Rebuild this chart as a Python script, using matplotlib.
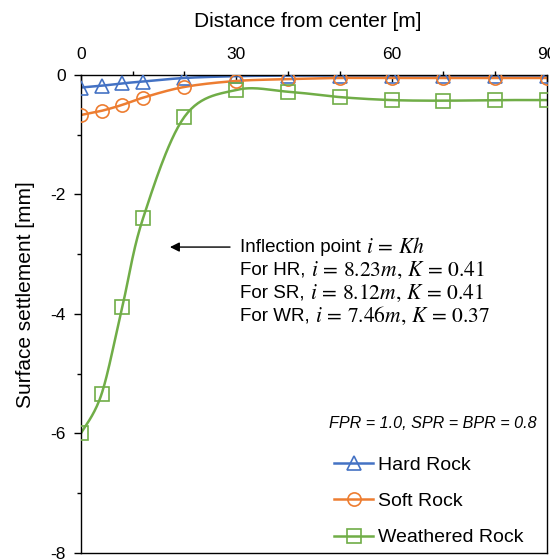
import numpy as np
import matplotlib.pyplot as plt
from matplotlib.ticker import MultipleLocator

plt.rcParams['font.family'] = ['Liberation Sans', 'DejaVu Sans']
plt.rcParams['mathtext.fontset'] = 'stix'

distance = [0, 4, 8, 12, 20, 30, 40, 50, 60, 70, 80, 90]
hard_rock = [-0.21, -0.18, -0.14, -0.11, -0.05, -0.02, -0.01, -0.01, -0.01, -0.01, -0.01, -0.01]
soft_rock = [-0.67, -0.60, -0.50, -0.38, -0.20, -0.10, -0.07, -0.05, -0.05, -0.05, -0.05, -0.05]
weathered_rock = [-6.00, -5.34, -3.88, -2.40, -0.70, -0.25, -0.28, -0.37, -0.42, -0.43, -0.42, -0.42]

series = [
    ("Hard Rock", hard_rock, "#4472C4", "^"),
    ("Soft Rock", soft_rock, "#ED7D31", "o"),
    ("Weathered Rock", weathered_rock, "#70AD47", "s"),
]

# (plain part, math part) for each line of the note
annot_lines = [
    ("Inflection point ", r"$i\,=\,Kh$"),
    ("For HR, ", r"$i\,=\,8.23m,\,K\,=\,0.41$"),
    ("For SR, ", r"$i\,=\,8.12m,\,K\,=\,0.41$"),
    ("For WR, ", r"$i\,=\,7.46m,\,K\,=\,0.37$"),
]


def smooth(x, y, n=30):
    # catmull-rom like the excel smoothed line
    x = np.asarray(x, float)
    y = np.asarray(y, float)
    px = np.concatenate([[x[0]], x, [x[-1]]])
    py = np.concatenate([[y[0]], y, [y[-1]]])
    xs, ys = [], []
    t = np.linspace(0, 1, n)
    for i in range(1, len(px) - 2):
        p0x, p1x, p2x, p3x = px[i - 1], px[i], px[i + 1], px[i + 2]
        p0y, p1y, p2y, p3y = py[i - 1], py[i], py[i + 1], py[i + 2]
        c1x = p1x + (p2x - p0x) / 6
        c1y = p1y + (p2y - p0y) / 6
        c2x = p2x - (p3x - p1x) / 6
        c2y = p2y - (p3y - p1y) / 6
        bx = (1 - t) ** 3 * p1x + 3 * (1 - t) ** 2 * t * c1x + 3 * (1 - t) * t ** 2 * c2x + t ** 3 * p2x
        by = (1 - t) ** 3 * p1y + 3 * (1 - t) ** 2 * t * c1y + 3 * (1 - t) * t ** 2 * c2y + t ** 3 * p2y
        xs.extend(bx)
        ys.extend(by)
    return np.array(xs), np.array(ys)


fig = plt.figure(figsize=(5.5, 5.6), dpi=100)
ax = fig.add_axes([0.147, 0.0125, 0.8475, 0.8536])

for label, vals, color, mk in series:
    sx, sy = smooth(distance, vals)
    ax.plot(sx, sy, color=color, lw=1.8, zorder=2)
    ax.plot(distance, vals, ls="none", marker=mk, ms=9.5, mfc="none", mec=color, mew=1.2, zorder=3)
    ax.plot([], [], color=color, lw=1.8, marker=mk, ms=9.5, mfc="none", mec=color, mew=1.2, label=label)

ax.set_xlim(0, 90)
ax.set_ylim(-8, 0)
ax.xaxis.set_major_locator(MultipleLocator(30))
ax.xaxis.set_minor_locator(MultipleLocator(10))
ax.yaxis.set_major_locator(MultipleLocator(2))
ax.yaxis.set_minor_locator(MultipleLocator(1))
ax.xaxis.tick_top()
ax.xaxis.set_label_position("top")
ax.tick_params(axis="both", which="major", labelsize=12.5, length=5, width=1)
ax.tick_params(axis="both", which="minor", length=3, width=1)
ax.tick_params(axis="x", direction="in", pad=9)
ax.tick_params(axis="y", direction="out", pad=6)
ax.set_yticks([-8, -6, -4, -2, 0])
ax.set_yticklabels(["-8", "-6", "-4", "-2", "0"])
ax.set_xlabel("Distance from center [m]", fontsize=15, labelpad=15, x=0.486)
ax.set_ylabel("Surface settlement [mm]", fontsize=15, labelpad=11, y=0.54)
for sp in ax.spines.values():
    sp.set_linewidth(1)

ax.annotate("", xy=(17.2, -2.88), xytext=(28.8, -2.88),
            arrowprops=dict(arrowstyle="-|>", color="black", lw=1, mutation_scale=14, shrinkA=0, shrinkB=0))
for k, (plain, math) in enumerate(annot_lines):
    t = ax.text(30.8, -2.88 - 0.385 * k, plain, fontsize=13.5, va="center", ha="left")
    ax.annotate(math, xy=(1, 0.5), xycoords=t, fontsize=15.5, va="center", ha="left")

ax.text(68.0, -5.83, "FPR = 1.0, SPR = BPR = 0.8", fontsize=11.6, style="italic", ha="center", va="center")
ax.legend(loc="lower right", bbox_to_anchor=(0.987, -0.023), frameon=False, fontsize=14,
          handlelength=2.0, handletextpad=0.25, labelspacing=0.96)

fig.savefig("out.png", dpi=100)
